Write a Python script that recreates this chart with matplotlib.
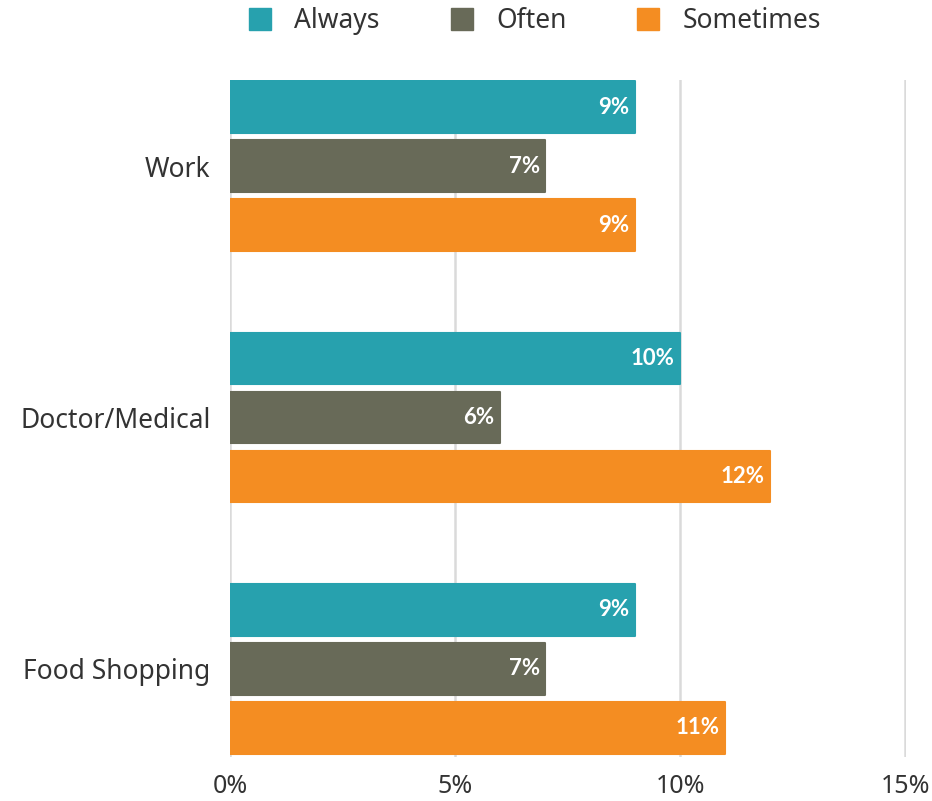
import matplotlib
matplotlib.use("Agg")
import matplotlib.pyplot as plt
import numpy as np
from matplotlib.lines import Line2D

categories = ["Work", "Doctor/Medical", "Food Shopping"]
series = ["Always", "Often", "Sometimes"]
always = [9, 10, 9]
often = [7, 6, 7]
sometimes = [9, 12, 11]
colors = ["#27A1AE", "#686A58", "#F48D22"]
xticks = [0, 5, 10, 15]
xtick_labels = ["0%", "5%", "10%", "15%"]

values = [always, often, sometimes]

fig = plt.figure(figsize=(9.32, 8.01), dpi=100)
ax = fig.add_axes([230 / 932, 1 - 757 / 801, (906 - 230) / 932, 677 / 801])

y = np.arange(len(categories))
offset = 0.2346
height = 0.205
for i, (name, vals, c) in enumerate(zip(series, values, colors)):
    pos = y + (i - 1) * offset
    bars = ax.barh(pos, vals, height=height, color=c, edgecolor=c,
                   linewidth=1.5, joinstyle="round", zorder=3)
    for b, v in zip(bars, vals):
        ax.text(v - 0.12, b.get_y() + b.get_height() / 2, f"{v}%",
                ha="right", va="center", color="white", fontsize=16,
                fontweight="bold", family="Lato", zorder=4)

ax.set_xlim(0, 15.02)
ax.set_ylim(2.35, -0.342)
ax.set_xticks(xticks)
ax.set_xticklabels(xtick_labels, fontsize=18, family="Noto Sans", color="#333333")
ax.set_yticks(y)
ax.set_yticklabels(categories, fontsize=19, family="Noto Sans", color="#333333")
ax.tick_params(length=0)
ax.tick_params(axis="y", pad=14)
ax.tick_params(axis="x", pad=12)
ax.grid(axis="x", color="#DADADA", linewidth=1.8, zorder=0)
for s in ax.spines.values():
    s.set_visible(False)

handles = [Line2D([0], [0], marker="s", linestyle="", markersize=16,
                  markerfacecolor=c, markeredgecolor=c) for c in colors]
fig.legend(handles, series, loc="center", bbox_to_anchor=(534 / 932, 1 - 21 / 801),
           ncol=3, frameon=False, prop={"family": "Noto Sans", "size": 19},
           handlelength=1.0, columnspacing=2.6, handletextpad=0.8,
           labelcolor="#333333")

fig.savefig("out.png", dpi=100)
